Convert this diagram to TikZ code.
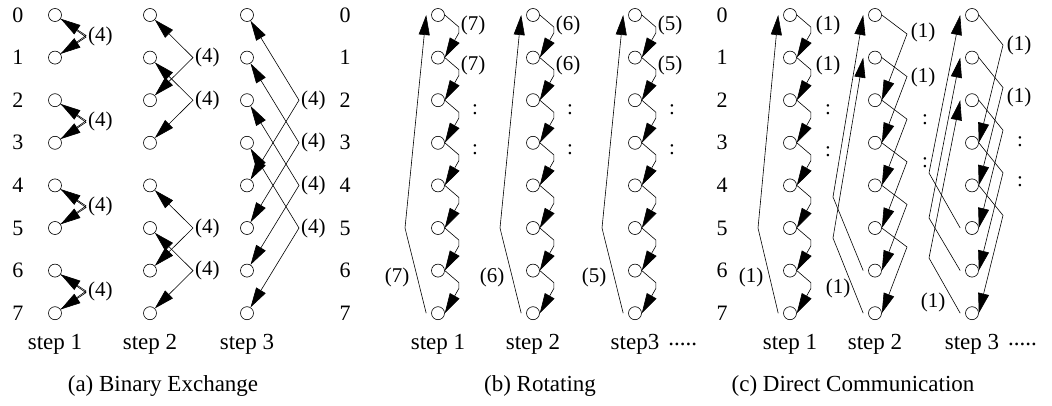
\documentclass[tikz,border=0pt]{standalone}
\usepackage{fontspec}
\setmainfont{Liberation Serif}
\usetikzlibrary{arrows.meta,positioning}

\begin{document}
\begin{tikzpicture}[x=1pt,y=-1pt,>={Triangle[length=20pt,width=11pt]},
	proc_node/.style={circle,draw,line width=0.6pt,minimum size=13pt,inner sep=0pt},
	msg_line/.style={line width=0.6pt,->},
	swap_line/.style={line width=0.6pt,<->},
	rank_label/.style={font=\fontsize{22}{24}\selectfont},
	cost_label/.style={font=\fontsize{21}{23}\selectfont,inner sep=2pt},
	step_label/.style={font=\fontsize{23}{25}\selectfont},
	title_label/.style={font=\fontsize{23}{25}\selectfont}]

	\useasboundingbox (0,0) rectangle (1052,406);

	% ranks 0..7 in front of each part
	\foreach \x/\p in {18/a,345/b,722/c}
		\foreach \r in {0,...,7}
			\node[rank_label] (rank_\p\r) at (\x,{15+42.6*\r}) {\r};

	% processors: a = binary exchange, b = rotating, c = direct
	\foreach \n/\x in {a1/55,a2/150,a3/247,b1/438,b2/533,b3/635,c1/790,c2/875,c3/972}
		\foreach \r in {0,...,7}
			\node[proc_node] (\n_\r) at (\x,{15+42.6*\r}) {};

	% (a) step 1
	\foreach \r in {0,2,4,6} {
		\pgfmathtruncatemacro\nxt{\r+1}
		\coordinate (xa_\r) at (86,{15+42.6*(\r+0.5)-0.8});
		\coordinate (xb_\r) at (86,{15+42.6*(\r+0.5)+0.8});
		\draw[msg_line] (a1_\nxt) -- (xa_\r) -- (a1_\r);
		\draw[msg_line] (a1_\r) -- (xb_\r) -- (a1_\nxt);
		\node[cost_label,right] (ca1_\r) at (86,{15+42.6*(\r+0.5)}) {(4)};
	}
	% (a) step 2
	\foreach \r in {0,1,4,5} {
		\pgfmathtruncatemacro\nxt{\r+2}
		\coordinate (ya_\r) at (193,{15+42.6*(\r+1)});
		\draw[swap_line] (a2_\r) -- (ya_\r) -- (a2_\nxt);
		\node[cost_label,right] (ca2_\r) at (ya_\r) {(4)};
	}
	% (a) step 3
	\foreach \r in {0,...,3} {
		\pgfmathtruncatemacro\nxt{\r+4}
		\coordinate (za_\r) at (299,{15+42.6*(\r+2)});
		\draw[swap_line] (a3_\r) -- (za_\r) -- (a3_\nxt);
		\node[cost_label,right] (ca3_\r) at (za_\r) {(4)};
	}

	% (b) rotating
	\foreach \n/\x/\w in {b1/438/7,b2/533/6,b3/635/5} {
		\foreach \r in {0,...,6} {
			\pgfmathtruncatemacro\nxt{\r+1}
			\draw[msg_line] (\n_\r.east) -- ++(14,12) -- ++(0,6) -- (\n_\nxt.east);
		}
		\coordinate (bend_\n) at ({\x-33},{15+42.6*5});
		\draw[msg_line] ([xshift=-5pt]\n_7.west) -- (bend_\n) -- ([xshift=-5pt]\n_0.west);
		\node[cost_label] (cl_\n) at ({\x-41},277) {(\w)};
		\node[cost_label] (cr_\n_0) at ({\x+35},25) {(\w)};
		\node[cost_label] (cr_\n_1) at ({\x+35},65) {(\w)};
		\node[cost_label] (cr_\n_2) at ({\x+37},110) {:};
		\node[cost_label] (cr_\n_3) at ({\x+37},150) {:};
	}

	% (c) step 1
	\foreach \r in {0,...,6} {
		\pgfmathtruncatemacro\nxt{\r+1}
		\draw[msg_line] (c1_\r.east) -- ++(14,12) -- ++(0,6) -- (c1_\nxt.east);
	}
	\coordinate (bend_c1) at (758,{15+42.6*5});
	\draw[msg_line] ([xshift=-5pt]c1_7.west) -- (bend_c1) -- ([xshift=-5pt]c1_0.west);
	\node[cost_label] (cl_c1) at (751,277) {(1)};
	\node[cost_label] (cr_c1_0) at (828,25) {(1)};
	\node[cost_label] (cr_c1_1) at (828,65) {(1)};
	\node[cost_label] (cr_c1_2) at (828,110) {:};
	\node[cost_label] (cr_c1_3) at (828,152) {:};

	% (c) step 2
	\foreach \r in {0,...,5} {
		\pgfmathtruncatemacro\nxt{\r+2}
		\coordinate (dv2_\r) at (907,{15+42.6*\r+19});
		\draw[msg_line] (c2_\r.east) -- (dv2_\r) -- (c2_\nxt.east);
	}
	\foreach \r/\y in {6/197,7/238} {
		\pgfmathtruncatemacro\nxt{\r-6}
		\coordinate (db2_\r) at (833,\y);
		\draw[msg_line] ([xshift=-5pt]c2_\r.west) -- (db2_\r) -- ([xshift=-5pt]c2_\nxt.west);
	}
	\node[cost_label] (cl_c2) at (838,288) {(1)};
	\node[cost_label] (cr_c2_0) at (923,32) {(1)};
	\node[cost_label] (cr_c2_1) at (923,77) {(1)};
	\node[cost_label] (cr_c2_2) at (925,120) {:};
	\node[cost_label] (cr_c2_3) at (925,163) {:};

	% (c) step 3
	\foreach \r in {0,...,4} {
		\pgfmathtruncatemacro\nxt{\r+3}
		\coordinate (dv3_\r) at (1003,{15+42.6*\r+30});
		\draw[msg_line] (c3_\r.east) -- (dv3_\r) -- (c3_\nxt.east);
	}
	\foreach \r/\y in {5/173,6/218,7/258} {
		\pgfmathtruncatemacro\nxt{\r-5}
		\coordinate (db3_\r) at (929,\y);
		\draw[msg_line] ([xshift=-5pt]c3_\r.west) -- (db3_\r) -- ([xshift=-5pt]c3_\nxt.west);
	}
	\node[cost_label] (cl_c3) at (933,302) {(1)};
	\node[cost_label] (cr_c3_0) at (1019,45) {(1)};
	\node[cost_label] (cr_c3_1) at (1019,97) {(1)};
	\node[cost_label] (cr_c3_2) at (1020,142) {:};
	\node[cost_label] (cr_c3_3) at (1020,182) {:};

	% steps and captions
	\node[step_label] (sa1) at (55,344) {step 1};
	\node[step_label] (sa2) at (150,344) {step 2};
	\node[step_label] (sa3) at (247,344) {step 3};
	\node[step_label] (sb1) at (438,344) {step 1};
	\node[step_label] (sb2) at (533,344) {step 2};
	\node[step_label] (sb3) at (635,344) {step3};
	\node[step_label,right=2pt of sb3] (sb4) {.....};
	\node[step_label] (sc1) at (790,344) {step 1};
	\node[step_label] (sc2) at (875,344) {step 2};
	\node[step_label] (sc3) at (972,344) {step 3};
	\node[step_label,right=2pt of sc3] (sc4) {.....};
	\node[title_label] (ta) at (163,386) {(a) Binary Exchange};
	\node[title_label] (tb) at (540,386) {(b) Rotating};
	\node[title_label] (tc) at (853,386) {(c) Direct Communication};
\end{tikzpicture}
\end{document}
